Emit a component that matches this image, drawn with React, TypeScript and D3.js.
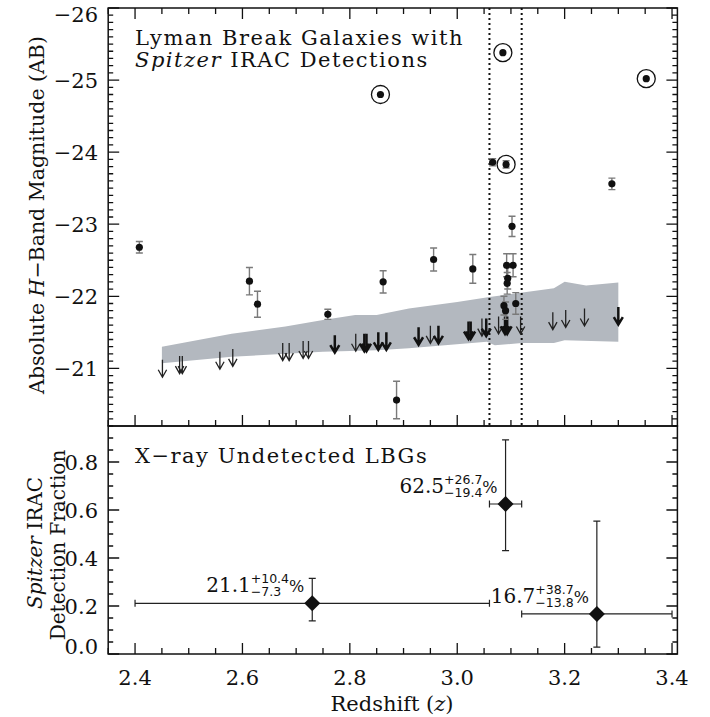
import React from "react";
import * as d3 from "d3";

// ---------- data ----------
const detZ = [2.408, 2.613, 2.628, 2.759, 2.862, 2.887, 2.956, 3.029, 3.102, 3.092, 3.104, 3.094, 3.093, 3.087, 3.090, 3.109, 3.066, 3.288];
const detMag = [-22.68, -22.21, -21.89, -21.75, -22.20, -20.56, -22.51, -22.38, -22.97, -22.43, -22.43, -22.25, -22.18, -21.87, -21.80, -21.90, -23.86, -23.56];
const detErr = [0.08, 0.19, 0.18, 0.07, 0.155, 0.26, 0.16, 0.20, 0.14, 0.16, 0.16, 0.15, 0.15, 0.13, 0.12, 0.15, 0.05, 0.08];

const agnZ = [2.857, 3.085, 3.091, 3.352];
const agnMag = [-24.80, -25.38, -23.83, -25.02];
const agnErr = [0, 0, 0.05, 0];

const limThinZ = [2.451, 2.483, 2.488, 2.558, 2.582, 2.675, 2.687, 2.713, 2.723, 2.811, 2.950, 3.046, 3.077, 3.118, 3.178, 3.202, 3.237];
const limThinMag = [-21.12, -21.17, -21.17, -21.23, -21.27, -21.35, -21.35, -21.38, -21.38, -21.48, -21.59, -21.69, -21.72, -21.72, -21.78, -21.81, -21.83];
const limBoldZ = [2.772, 2.827, 2.831, 2.853, 2.868, 2.928, 2.965, 3.021, 3.025, 3.054, 3.089, 3.093, 3.300];
const limBoldMag = [-21.46, -21.48, -21.48, -21.50, -21.50, -21.57, -21.59, -21.65, -21.65, -21.69, -21.72, -21.72, -21.85];

const bandUpperZ = [2.45, 2.58, 2.68, 2.75, 2.81, 2.85, 2.91, 3.00, 3.06, 3.18, 3.20, 3.24, 3.30];
const bandUpperMag = [-21.30, -21.48, -21.58, -21.67, -21.74, -21.74, -21.83, -21.92, -21.99, -22.11, -22.20, -22.15, -22.19];
const bandLowerZ = [2.45, 2.58, 2.75, 2.85, 2.91, 3.055, 3.07, 3.12, 3.18, 3.20, 3.30];
const bandLowerMag = [-21.07, -21.16, -21.23, -21.25, -21.28, -21.37, -21.32, -21.35, -21.35, -21.39, -21.37];

const zoneEdges = [3.06, 3.12];

const fracZ = [2.73, 3.09, 3.26];
const frac = [0.211, 0.625, 0.167];
const fracErrUp = [0.104, 0.267, 0.387];
const fracErrDn = [0.073, 0.194, 0.138];
const fracZLo = [2.40, 3.06, 3.12];
const fracZHi = [3.06, 3.12, 3.40];
const fracMain = ["21.1", "62.5", "16.7"];
const fracSup = ["+10.4", "+26.7", "+38.7"];
const fracSub = ["−7.3", "−19.4", "−13.8"];

const xMajor = [2.4, 2.6, 2.8, 3.0, 3.2, 3.4];
const magMajor = [-26, -25, -24, -23, -22, -21];
const fracMajor = [0.0, 0.2, 0.4, 0.6, 0.8];

// ---------- layout ----------
const W = 710, H = 717;
const L = 108.2, R = 677.4;
const T1 = 8, B1 = 426, B2 = 654;

const x = d3.scaleLinear().domain([2.35, 3.41]).range([L, R]);
const y1 = d3.scaleLinear().domain([-26, -20.2]).range([T1, B1]);
const y2 = d3.scaleLinear().domain([0, 0.95]).range([B2, B1]);

const SERIF = "'DejaVu Serif', serif";
const SANS = "'DejaVu Sans', sans-serif";

let ctx: CanvasRenderingContext2D | null = null;
function measure(t: string, font: string) {
  if (!ctx) ctx = document.createElement("canvas").getContext("2d");
  if (!ctx) return t.length * 8;
  ctx.font = font;
  return ctx.measureText(t).width;
}

function fmt(v: number, d: number) {
  const s = Math.abs(v).toFixed(d);
  return v < 0 ? "−" + s : s;
}

export default function App() {
  const xMinor = d3.range(2.35, 3.4101, 0.05);
  const magMinor = d3.range(-26, -20.19, 0.1);
  const fracMinor = d3.range(0, 0.951, 0.05);

  const upperPts = bandUpperZ.map((z, i) => [x(z), y1(bandUpperMag[i])] as [number, number]);
  const lowerPts = bandLowerZ.map((z, i) => [x(z), y1(bandLowerMag[i])] as [number, number]).reverse();
  const bandPath = d3.line()([...upperPts, ...lowerPts]) + "Z";

  const stroke = "#111";
  const tickPath: string[] = [];
  xMinor.forEach((v) => {
    const major = xMajor.some((m) => Math.abs(m - v) < 1e-6);
    const len = major ? 11 : 6;
    const px = x(v);
    tickPath.push(`M${px},${T1}v${len}`);
    tickPath.push(`M${px},${B1}v${-len}`);
    tickPath.push(`M${px},${B2}v${-len}`);
  });
  magMinor.forEach((v) => {
    const major = magMajor.some((m) => Math.abs(m - v) < 1e-6);
    const len = major ? 11 : 5;
    const py = y1(v);
    tickPath.push(`M${L},${py}h${len}`);
    tickPath.push(`M${R},${py}h${-len}`);
  });
  fracMinor.forEach((v) => {
    const major = fracMajor.some((m) => Math.abs(m - v) < 1e-6);
    const len = major ? 11 : 5;
    const py = y2(v);
    tickPath.push(`M${L},${py}h${len}`);
    tickPath.push(`M${R},${py}h${-len}`);
  });

  const arrow = (z: number, m: number, bold: boolean, key: string) => {
    const px = x(z);
    const top = y1(m);
    const len = 17.5;
    const hw = bold ? 4.5 : 4.2;
    const hh = 7.5;
    const tip = top + len;
    return (
      <path
        key={key}
        d={`M${px},${top}V${tip}M${px - hw},${tip - hh}L${px},${tip}L${px + hw},${tip - hh}`}
        fill="none"
        stroke={bold ? "#111" : "#222"}
        strokeWidth={bold ? 2.5 : 1.3}
      />
    );
  };

  const errBar = (px: number, py0: number, py1: number, key: string, color = "#7a7a7a") => (
    <path
      key={key}
      d={`M${px},${py0}V${py1}M${px - 3.5},${py0}h7M${px - 3.5},${py1}h7`}
      stroke={color}
      strokeWidth={1.4}
      fill="none"
    />
  );

  return (
    <svg width={W} height={H} style={{ position: "absolute", left: 0, top: 0, background: "#fff" }}>
      <rect x={0} y={0} width={W} height={H} fill="#fff" />
      <path d={bandPath} fill="#b3b8bf" stroke="none" />

      {zoneEdges.map((z, i) => (
        <line key={"zl" + i} x1={x(z)} x2={x(z)} y1={T1} y2={B1} stroke="#111" strokeWidth={2} strokeDasharray="2,3" />
      ))}

      {limThinZ.map((z, i) => arrow(z, limThinMag[i], false, "lt" + i))}
      {limBoldZ.map((z, i) => arrow(z, limBoldMag[i], true, "lb" + i))}

      {detZ.map((z, i) =>
        detErr[i] > 0 ? errBar(x(z), y1(detMag[i] - detErr[i]), y1(detMag[i] + detErr[i]), "de" + i) : null
      )}
      {agnZ.map((z, i) =>
        agnErr[i] > 0 ? errBar(x(z), y1(agnMag[i] - agnErr[i]), y1(agnMag[i] + agnErr[i]), "ae" + i) : null
      )}
      {detZ.map((z, i) => (
        <circle key={"d" + i} cx={x(z)} cy={y1(detMag[i])} r={3.6} fill="#111" />
      ))}
      {agnZ.map((z, i) => (
        <g key={"a" + i}>
          <circle cx={x(z)} cy={y1(agnMag[i])} r={3.6} fill="#111" />
          <circle cx={x(z)} cy={y1(agnMag[i])} r={9} fill="none" stroke="#111" strokeWidth={1.3} />
        </g>
      ))}

      {fracZ.map((z, i) => {
        const px = x(z);
        const py = y2(frac[i]);
        const yu = y2(frac[i] + fracErrUp[i]);
        const yd = y2(frac[i] - fracErrDn[i]);
        const xl = x(fracZLo[i]);
        const xh = x(fracZHi[i]);
        return (
          <g key={"f" + i}>
            <path
              d={`M${px},${yu}V${yd}M${px - 3.5},${yu}h7M${px - 3.5},${yd}h7M${xl},${py}H${xh}M${xl},${py - 3.5}v7M${xh},${py - 3.5}v7`}
              stroke="#222"
              strokeWidth={1.2}
              fill="none"
            />
            <path d={`M${px - 8},${py}L${px},${py - 8}L${px + 8},${py}L${px},${py + 8}Z`} fill="#111" />
          </g>
        );
      })}
      {fracZ.map((z, i) => {
        const px = x(z);
        const py = y2(frac[i]);
        const scrFont = `12.5px ${SANS}`;
        const pctFont = `16px ${SERIF}`;
        const mainFont = `20px ${SERIF}`;
        const wS = Math.max(measure(fracSup[i], scrFont), measure(fracSub[i], scrFont));
        const wP = measure("%", pctFont);
        const wM = measure(fracMain[i], mainFont);
        const endX = px - 8;
        const pctX = endX - wP;
        const scrX = pctX - wS;
        const mainX = scrX - wM;
        const base = py - 11;
        return (
          <text key={"fl" + i} x={mainX} y={base} fontFamily={SERIF} fontSize={20} fill="#111">
            {fracMain[i]}
            <tspan x={scrX} y={base - 9} fontFamily={SANS} fontSize={12.5}>{fracSup[i]}</tspan>
            <tspan x={scrX} y={base + 4} fontFamily={SANS} fontSize={12.5}>{fracSub[i]}</tspan>
            <tspan x={pctX} y={base} fontSize={16}>%</tspan>
          </text>
        );
      })}

      <rect x={L} y={T1} width={R - L} height={B1 - T1} fill="none" stroke={stroke} strokeWidth={1.5} />
      <rect x={L} y={B1} width={R - L} height={B2 - B1} fill="none" stroke={stroke} strokeWidth={1.5} />
      <path d={tickPath.join("")} stroke={stroke} strokeWidth={1.3} fill="none" />

      {magMajor.map((v) => (
        <text key={"ml" + v} x={98} y={v === -26 ? 22 : y1(v) + 8} textAnchor="end" fontFamily={SERIF} fontSize={21} fill="#111">
          {fmt(v, 0)}
        </text>
      ))}
      {fracMajor.map((v) => (
        <text key={"fr" + v} x={98} y={v === 0 ? 654 : y2(v) + 8} textAnchor="end" fontFamily={SERIF} fontSize={21} fill="#111">
          {v.toFixed(1)}
        </text>
      ))}
      {xMajor.map((v) => (
        <text key={"xl" + v} x={x(v)} y={685} textAnchor="middle" fontFamily={SERIF} fontSize={21} fill="#111">
          {v.toFixed(1)}
        </text>
      ))}

      <text x={392} y={711} textAnchor="middle" fontFamily={SERIF} fontSize={21} fill="#111">
        Redshift (<tspan fontStyle="italic">z</tspan>)
      </text>
      <text transform="translate(44,215) rotate(-90)" textAnchor="middle" fontFamily={SERIF} fontSize={20.5} fill="#111">
        Absolute <tspan fontStyle="italic">H</tspan>−Band Magnitude (AB)
      </text>
      <text transform="translate(42,543) rotate(-90)" textAnchor="middle" fontFamily={SERIF} fontSize={20} fill="#111">
        <tspan fontStyle="italic">Spitzer</tspan> IRAC
      </text>
      <text transform="translate(65,545) rotate(-90)" textAnchor="middle" fontFamily={SERIF} fontSize={20} fill="#111">
        Detection Fraction
      </text>

      <text x={135} y={45} fontFamily={SERIF} fontSize={21} letterSpacing={1.5} fill="#111">
        Lyman Break Galaxies with
      </text>
      <text x={135} y={67} fontFamily={SERIF} fontSize={21} letterSpacing={1.5} fill="#111">
        <tspan fontStyle="italic">Spitzer</tspan> IRAC Detections
      </text>
      <text x={135} y={463} fontFamily={SERIF} fontSize={21} letterSpacing={1.5} fill="#111">
        X−ray Undetected LBGs
      </text>
    </svg>
  );
}
